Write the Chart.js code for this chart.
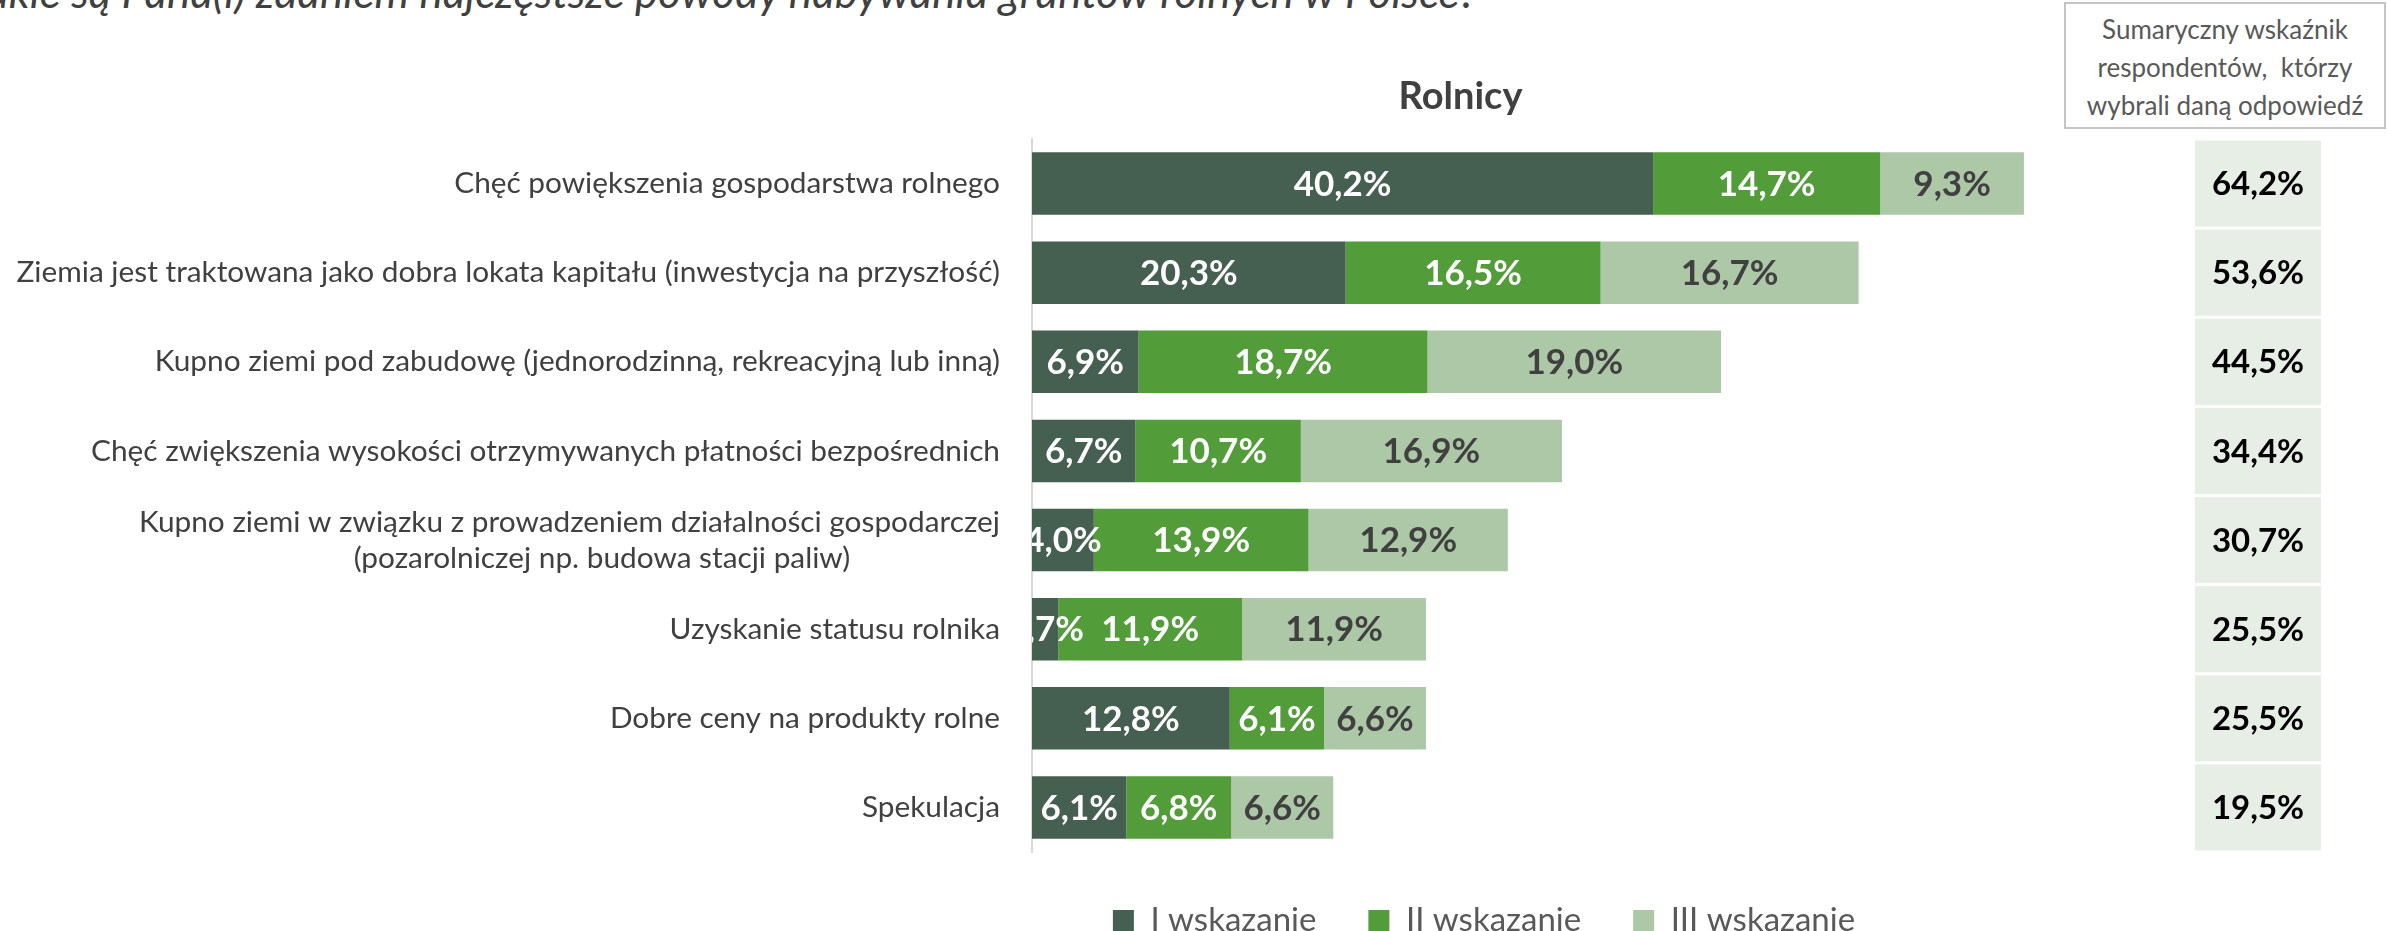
<!DOCTYPE html>
<html><head><meta charset="utf-8">
<script src="https://cdn.jsdelivr.net/npm/chart.js@4.4.1/dist/chart.umd.min.js"></script>
<style>
html,body{margin:0;padding:0;background:#fff;overflow:hidden;width:2387px;height:931px;}
#wrap{position:absolute;left:0;top:0;width:2387px;height:947px;}
#q{position:absolute;right:910px;top:-31px;font:italic 44px Lato;line-height:44px;color:#404040;white-space:nowrap;}
#hdr{position:absolute;left:2064px;top:2px;width:322px;height:127px;box-sizing:border-box;border:2px solid #C4C4C4;font:26px Lato;line-height:38px;color:#595959;text-align:center;padding-top:6px;background:#fff;}
</style></head><body>
<div id="q">Jakie są Pana(i) zdaniem najczęstsze powody nabywania gruntów rolnych w Polsce?</div>
<div id="wrap"><canvas id="c"></canvas></div>
<div id="hdr">Sumaryczny wskaźnik<br>respondentów,&nbsp; którzy<br>wybrali daną odpowiedź</div>
<script>
const categories = [
  'Chęć powiększenia gospodarstwa rolnego',
  'Ziemia jest traktowana jako dobra lokata kapitału (inwestycja na przyszłość)',
  'Kupno ziemi pod zabudowę (jednorodzinną, rekreacyjną lub inną)',
  'Chęć zwiększenia wysokości otrzymywanych płatności bezpośrednich',
  ['Kupno ziemi w związku z prowadzeniem działalności gospodarczej', '(pozarolniczej np. budowa stacji paliw)\u2003\u2003\u2003\u2003\u2003     '],
  'Uzyskanie statusu rolnika',
  'Dobre ceny na produkty rolne',
  'Spekulacja'
];
const seriesNames = ['I wskazanie', 'II wskazanie', 'III wskazanie'];
const firstChoice  = [40.2, 20.3, 6.9, 6.7, 4.0, 1.7, 12.8, 6.1];
const secondChoice = [14.7, 16.5, 18.7, 10.7, 13.9, 11.9, 6.1, 6.8];
const thirdChoice  = [9.3, 16.7, 19.0, 16.9, 12.9, 11.9, 6.6, 6.6];
const totals       = [64.2, 53.6, 44.5, 34.4, 30.7, 25.5, 25.5, 19.5];

const colors = ['#455F50', '#529C3A', '#ADC8A6'];
const labelColors = ['#FFFFFF', '#FFFFFF', '#404040'];
const fmt = v => v.toFixed(1).replace('.', ',') + '%';

const valueLabels = {
  id: 'valueLabels',
  afterDatasetsDraw(chart) {
    const {ctx, chartArea} = chart;
    ctx.save();
    ctx.beginPath();
    ctx.rect(chartArea.left, chartArea.top, chartArea.right - chartArea.left, chartArea.bottom - chartArea.top);
    ctx.clip();
    ctx.font = 'bold 35px Lato';
    ctx.textAlign = 'center';
    ctx.textBaseline = 'middle';
    chart.data.datasets.forEach((ds, di) => {
      const meta = chart.getDatasetMeta(di);
      meta.data.forEach((bar, i) => {
        ctx.fillStyle = labelColors[di];
        ctx.fillText(fmt(ds.data[i]), (bar.x + bar.base) / 2, bar.y + 1);
      });
    });
    ctx.restore();
  }
};

const totalsColumn = {
  id: 'totalsColumn',
  afterDraw(chart) {
    const ctx = chart.ctx;
    const y = chart.scales.y;
    const step = y.getPixelForValue(1) - y.getPixelForValue(0);
    ctx.save();
    totals.forEach((t, i) => {
      const cy = y.getPixelForValue(i);
      ctx.fillStyle = '#E7EEE6';
      ctx.fillRect(2195, cy - step / 2 + 1.5, 126, step - 3);
      ctx.fillStyle = '#000000';
      ctx.font = 'bold 33px Lato';
      ctx.textAlign = 'center';
      ctx.textBaseline = 'middle';
      ctx.fillText(fmt(t), 2258, cy + 1);
    });
    ctx.restore();
  }
};

const series = [firstChoice, secondChoice, thirdChoice];
new Chart(document.getElementById('c'), {
  type: 'bar',
  data: {
    labels: categories,
    datasets: series.map((d, i) => ({
      label: seriesNames[i],
      data: d,
      backgroundColor: colors[i],
      borderWidth: 0,
      barPercentage: 0.7,
      categoryPercentage: 1
    }))
  },
  options: {
    indexAxis: 'y',
    animation: false,
    responsive: true,
    maintainAspectRatio: false,
    layout: {padding: {left: 0, right: -581, top: 0, bottom: 0}},
    scales: {
      x: {stacked: true, min: 0, max: 87.7, display: false},
      y: {
        stacked: true,
        grid: {display: false, drawTicks: false, tickLength: 0},
        border: {display: true, color: '#D9D9D9', width: 2},
        ticks: {font: {family: 'Lato', size: 29.8, lineHeight: 1.2}, color: '#404040', padding: 32, autoSkip: false},
        afterFit(s) { s.width = 1032; }
      }
    },
    plugins: {
      title: {display: true, text: 'Rolnicy\u2003  ', color: '#404040',
        font: {family: 'Lato', size: 38, weight: 'bold', lineHeight: 1.2},
        padding: {top: 74, bottom: 19.4}},
      legend: {position: 'bottom',
        labels: {boxWidth: 21, boxHeight: 21, padding: 52, color: '#595959', font: {family: 'Lato', size: 33}}},
      tooltip: {enabled: false}
    }
  },
  plugins: [valueLabels, totalsColumn]
});
</script>
</body></html>
